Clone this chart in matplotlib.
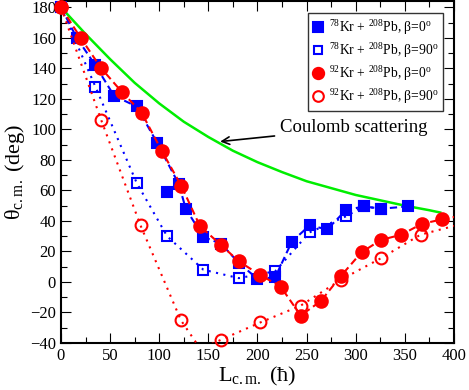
import numpy as np
import matplotlib
matplotlib.use("Agg")
import matplotlib.pyplot as plt
from matplotlib.ticker import MultipleLocator

# fonts: Times-like serif everywhere, also inside mathtext
plt.rcParams['font.family'] = ['Liberation Serif', 'DejaVu Serif']
plt.rcParams['mathtext.fontset'] = 'custom'
plt.rcParams['mathtext.rm'] = 'Liberation Serif'
plt.rcParams['mathtext.it'] = 'Liberation Serif:italic'
plt.rcParams['mathtext.bf'] = 'Liberation Serif:bold'

# Coulomb scattering curve
L_coul = [0, 25, 50, 75, 100, 125, 150, 175, 200, 225, 250, 275, 300, 325, 350, 375, 386]
th_coul = [180, 162.5, 146, 130.5, 117, 105, 95, 86, 78.5, 72, 66, 61.5, 57, 53.5, 50, 47, 45.5]

# 78Kr + 208Pb, beta = 0
L_kr78_b0 = [0, 16, 35, 54, 77, 98, 108, 120, 127, 145, 163, 181, 200, 218, 235, 253, 271, 290, 308, 326, 353]
th_kr78_b0 = [180, 160, 142, 122, 115, 91, 59, 64, 48, 29.5, 25, 12.5, 2, 3, 26.5, 37, 34.5, 47, 49.5, 48, 49.5]
skip_kr78_b0 = [6]  # point not joined by the dashed line

# 78Kr + 208Pb, beta = 90
L_kr78_b90 = [0, 35, 77, 108, 145, 181, 218, 253, 290, 308, 326]
th_kr78_b90 = [180, 128, 65, 30, 8, 2.5, 7, 32.5, 43, 49.5, 48]

# 92Kr + 208Pb, beta = 0
L_kr92_b0 = [0, 20, 41, 62, 82, 102.5, 122.5, 141.5, 162.5, 181, 203, 223.5, 244, 264.5, 285, 306, 325.5, 346.5, 367, 387.5, 408]
th_kr92_b0 = [180, 160, 140, 124.5, 111, 86, 63, 36.5, 24.5, 13.5, 4.5, -3, -22, -12.5, 4, 19.5, 27.5, 31, 38, 41, 43.5]

# 92Kr + 208Pb, beta = 90
L_kr92_b90 = [0, 41, 81, 122, 142, 162.5, 203, 244, 285, 325.5, 366, 408]
th_kr92_b90 = [180, 106, 37, -25, -44, -38, -26.5, -15.5, 1.5, 15.5, 31, 38]

labels = [r'$^{78}$Kr + $^{208}$Pb, β=0$^{\rm o}$',
          r'$^{78}$Kr + $^{208}$Pb, β=90$^{\rm o}$',
          r'$^{92}$Kr + $^{208}$Pb, β=0$^{\rm o}$',
          r'$^{92}$Kr + $^{208}$Pb, β=90$^{\rm o}$']

xmin, xmax = 0, 400
ymin, ymax = -40, 184

fig = plt.figure(figsize=(4.69, 3.90), dpi=100)
ax = fig.add_axes([0.130, 0.1205, 0.838, 0.8765])

ax.plot(L_coul, th_coul, color='#00ee00', lw=1.8, zorder=1)

dashed = (3.5, 2)
dotted = (1, 2.6)


def draw_set(x, y, color, filled, marker, ms, dashes, label, z, skip=()):
    x = np.array(x, dtype=float)
    y = np.array(y, dtype=float)
    keep = np.ones(len(x), dtype=bool)
    keep[list(skip)] = False
    ax.plot(x[keep], y[keep], color=color, lw=1.5, dashes=dashes, zorder=z)
    inside = (x <= xmax) & (y >= ymin)
    ax.plot(x[inside], y[inside], ls='none', marker=marker, ms=ms,
            mec=color, mfc=color if filled else 'none', mew=1.5,
            clip_on=False, zorder=z + 0.5, label=label)


draw_set(L_kr78_b0, th_kr78_b0, 'blue', True, 's', 7.5, dashed, labels[0], 2, skip_kr78_b0)
draw_set(L_kr78_b90, th_kr78_b90, 'blue', False, 's', 7, dotted, labels[1], 3)
draw_set(L_kr92_b0, th_kr92_b0, 'red', True, 'o', 9, dashed, labels[2], 4)
draw_set(L_kr92_b90, th_kr92_b90, 'red', False, 'o', 8.5, dotted, labels[3], 5)

ax.annotate('Coulomb scattering', xy=(162, 92), xytext=(223, 101),
            fontsize=13.5, va='center', ha='left',
            arrowprops=dict(arrowstyle='->', color='black', lw=1.2,
                            shrinkA=2, shrinkB=0))

ax.set_xlim(xmin, xmax)
ax.set_ylim(ymin, ymax)
ax.xaxis.set_major_locator(MultipleLocator(50))
ax.xaxis.set_minor_locator(MultipleLocator(25))
ax.yaxis.set_major_locator(MultipleLocator(20))
ax.yaxis.set_minor_locator(MultipleLocator(10))
ax.tick_params(which='both', direction='in', top=True, right=True, labelsize=12, width=0.8)
ax.tick_params(which='major', length=7)
ax.tick_params(which='minor', length=4)
for s in ax.spines.values():
    s.set_linewidth(1.5)

ax.set_xlabel(r'L$_{\rm c.m.}$ (ħ)', fontsize=16, labelpad=1)
ax.set_ylabel(r'θ$_{\rm c.m.}$ (deg)', fontsize=16, labelpad=2)

leg = ax.legend(loc='upper right', bbox_to_anchor=(0.972, 0.965), fontsize=9.8,
                frameon=True, fancybox=False, handlelength=0.7, handletextpad=0.45,
                labelspacing=0.3, borderpad=0.35, borderaxespad=0, numpoints=1,
                markerscale=0.9)
leg.get_frame().set_edgecolor('black')
leg.get_frame().set_linewidth(1.0)

fig.savefig('out.png', dpi=100)
